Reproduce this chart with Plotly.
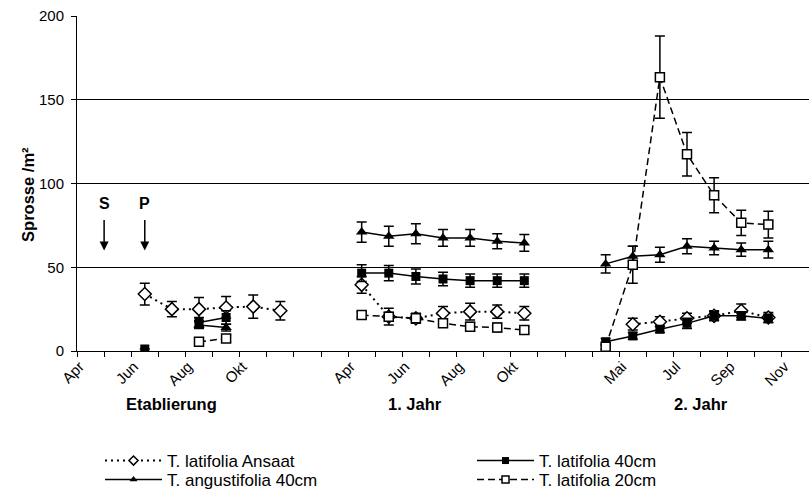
import plotly.graph_objects as go

# Month categories along the x axis (three seasons separated by empty slots)
months = ["Apr", "Mai", "Jun", "Jul", "Aug", "Sep", "Okt", "Nov", "", "",
          "Apr", "Mai", "Jun", "Jul", "Aug", "Sep", "Okt", "", "",
          "Apr", "Mai", "Jun", "Jul", "Aug", "Sep", "Okt", "Nov"]
season_labels = ["Etablierung", "1. Jahr", "2. Jahr"]
season_centers = [4.0, 12.95, 23.5]

N = None
# Shoot densities per month (None = no sampling)
ansaat = [N, N, 34, 25, 25, 26, 26.5, 24, N, N,
          39.5, 20.5, 19.5, 22.5, 23.5, 23.5, 22.5, N, N,
          N, 16, 17.5, 19.5, 21, 24, 20, N]
ansaat_err = [0, 0, 6.5, 4.5, 7, 6.5, 7, 5.5, 0, 0,
              5, 5, 3, 4, 5, 4, 4, 0, 0,
              0, 3.5, 3, 3, 3, 4, 3, 0]

lat40 = [N, N, 1.2, N, 17, 20, N, N, N, N,
         46.5, 46.5, 44.5, 43, 42, 42, 42, N, N,
         5.5, 9, 13, 16.5, 21, 21, 19.5, N]
lat40_err = [0, 0, 0, 0, 3, 4, 0, 0, 0, 0,
             5, 4.5, 4.5, 4, 4, 4, 4, 0, 0,
             2, 2, 2, 3, 2.5, 2.5, 2.5, 0]

ang40 = [N, N, N, N, 15.5, 14, N, N, N, N,
         71, 68.5, 70, 67.5, 67.5, 65.5, 64.5, N, N,
         52, 56.5, 57.5, 62.5, 61.5, 60.5, 60.5, N]
ang40_err = [0, 0, 0, 0, 2, 2, 0, 0, 0, 0,
             6, 6, 6, 5, 5, 4.5, 5, 0, 0,
             5.5, 6, 4.5, 4.5, 4, 4, 5, 0]

lat20 = [N, N, N, N, 5.5, 7.5, N, N, N, N,
         21.5, 20.5, 19.5, 16.5, 14.5, 14, 12.5, N, N,
         2.6, 51.5, 163.5, 117.5, 93, 76.5, 75.5, N]
lat20_err = [0, 0, 0, 0, 2, 2, 0, 0, 0, 0,
             2, 2.5, 2.5, 2, 2.5, 2.5, 2, 0, 0,
             1.5, 11, 24.5, 13, 10.5, 7.5, 8, 0]

x = list(range(1, len(months) + 1))
FONT = "Arial, Liberation Sans, sans-serif"

def err(vals):
    return dict(type="data", array=vals, visible=True, color="black",
                thickness=1.5, width=5)

series = [
    # name, values, errors, line style, marker style, marker size, legend id
    ("T. latifolia Ansaat", ansaat, ansaat_err,
     dict(color="black", width=2, dash="2px,4px"),
     dict(symbol="diamond", color="white", line=dict(color="black", width=1.5)),
     10, "legend"),
    ("T. latifolia 40cm", lat40, lat40_err,
     dict(color="black", width=1.5),
     dict(symbol="square", color="black"), 9, "legend2"),
    ("T. angustifolia 40cm", ang40, ang40_err,
     dict(color="black", width=1.5),
     dict(symbol="triangle-up", color="black"), 10, "legend3"),
    ("T. latifolia 20cm", lat20, lat20_err,
     dict(color="black", width=1.5, dash="7px,4px"),
     dict(symbol="square", color="white", line=dict(color="black", width=1.5)),
     9, "legend4"),
]

fig = go.Figure()
for name, vals, errs, line, marker, msize, _ in series:
    fig.add_trace(go.Scatter(
        x=x, y=vals, name=name, mode="lines+markers", showlegend=False,
        line=line, marker=dict(size=msize, **marker), error_y=err(errs)))
# legend entries with smaller sample markers
for name, vals, errs, line, marker, msize, leg in series:
    fig.add_trace(go.Scatter(
        x=[None], y=[None], name=name, mode="lines+markers", legend=leg,
        line=line, marker=dict(size=7, **marker)))

label_pos = [v for v in x if v % 2 == 1]
fig.update_xaxes(
    range=[0.5, len(months) + 0.5],
    tickmode="array", tickvals=[v - 0.4 for v in label_pos],
    ticktext=[months[v - 1] for v in label_pos],
    tickangle=-45, ticks="", showgrid=False, zeroline=False,
    showline=True, linecolor="black", linewidth=1,
    tickfont=dict(family=FONT, size=15, color="black"),
    minor=dict(tickmode="array", tickvals=[v + 0.5 for v in range(len(months) + 1)],
               ticks="outside", ticklen=5, tickcolor="black", showgrid=False))
fig.update_yaxes(
    range=[0, 200], tickvals=[0, 50, 100, 150, 200],
    ticks="outside", ticklen=5, tickcolor="black", ticklabelstandoff=4,
    showgrid=True, gridcolor="black", gridwidth=1, zeroline=False,
    showline=True, linecolor="black", linewidth=1,
    tickfont=dict(family=FONT, size=15, color="black"))

annotations = [
    dict(text="<b>Sprosse /m²</b>", xref="paper", yref="paper", x=0, y=0.466,
         xshift=-60, textangle=-90, showarrow=False,
         font=dict(family=FONT, size=16.5, color="black")),
]
for txt, xc in zip(season_labels, season_centers):
    annotations.append(dict(text=f"<b>{txt}</b>", x=xc, xref="x", y=-0.191,
                            yref="paper", showarrow=False,
                            font=dict(family=FONT, size=16.5, color="black")))
# sowing (S) and planting (P) markers
for txt, xm in [("S", 1.5), ("P", 3.0)]:
    annotations.append(dict(text=f"<b>{txt}</b>", x=xm, y=88, xref="x", yref="y",
                            showarrow=False,
                            font=dict(family=FONT, size=16, color="black")))
    annotations.append(dict(text="", x=xm, y=60, xref="x", yref="y",
                            ax=0, ay=-32, showarrow=True, arrowhead=2,
                            arrowsize=1.2, arrowwidth=1.5, arrowcolor="black"))

legend_common = dict(xref="container", yref="container", xanchor="left",
                     yanchor="middle", itemwidth=57, bgcolor="rgba(0,0,0,0)",
                     font=dict(family=FONT, size=17, color="black"))
fig.update_layout(
    width=809, height=493,
    margin=dict(l=77, r=0, t=16, b=142, autoexpand=False),
    paper_bgcolor="white", plot_bgcolor="white",
    annotations=annotations,
    legend=dict(x=100 / 809, y=1 - 461 / 493, **legend_common),
    legend2=dict(x=472 / 809, y=1 - 461 / 493, **legend_common),
    legend3=dict(x=100 / 809, y=1 - 480 / 493, **legend_common),
    legend4=dict(x=472 / 809, y=1 - 480 / 493, **legend_common),
)

fig.write_html("out.html")
